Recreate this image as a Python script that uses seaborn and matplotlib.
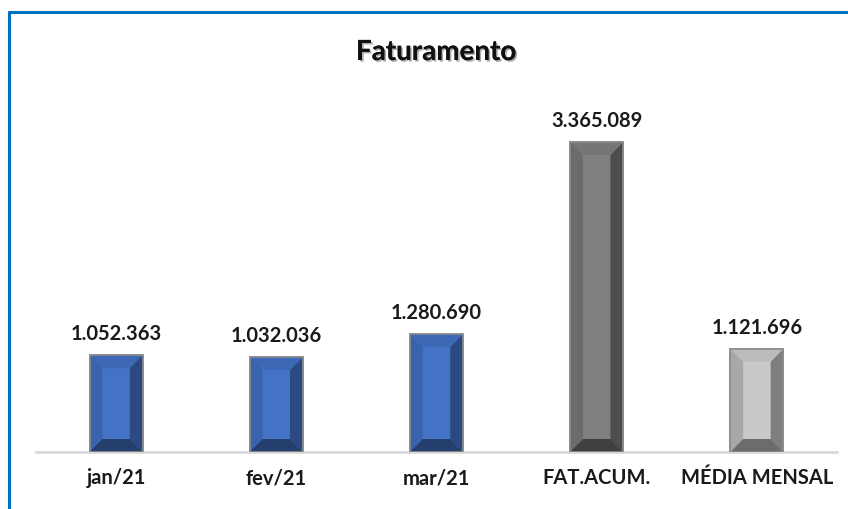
import matplotlib
matplotlib.use("Agg")
import pandas as pd
import seaborn as sns
import matplotlib.pyplot as plt
import matplotlib.patheffects as pe
from matplotlib.patches import Polygon
from matplotlib.lines import Line2D

# Data
categories = ["jan/21", "fev/21", "mar/21", "FAT.ACUM.", "MÉDIA MENSAL"]
values = [1052363, 1032036, 1280690, 3365089, 1121696]
labels = ["1.052.363", "1.032.036", "1.280.690", "3.365.089", "1.121.696"]

# face, left, top, right, bottom bevel colours per bar
face_colors = ["#4472C4", "#4472C4", "#4472C4", "#808080", "#C9C9C9"]
left_colors = ["#3A63AE", "#3A63AE", "#3A63AE", "#6B6B6B", "#A8A8A8"]
top_colors = ["#3D68B6", "#3D68B6", "#3D68B6", "#767676", "#BBBBBB"]
right_colors = ["#2B4A82", "#2B4A82", "#2B4A82", "#4D4D4D", "#7E7E7E"]
bottom_colors = ["#243F6E", "#243F6E", "#243F6E", "#404040", "#6C6C6C"]

df = pd.DataFrame({"cat": categories, "val": values})

sns.set_style("white")
plt.rcParams["font.family"] = ["Lato", "DejaVu Sans"]

fig = plt.figure(figsize=(8.48, 5.10), dpi=100)
ax = fig.add_axes([36 / 848, 57 / 510, 801 / 848, 368.5 / 510])

sns.barplot(x="cat", y="val", data=df, hue="cat", palette=face_colors, saturation=1,
            width=0.33, legend=False, ax=ax, edgecolor="#8C8C8C", linewidth=1.2)
ax.set_ylim(0, 4000000)
ax.set_xlim(-0.5, 4.5)

# bevel effect built from the bar patches
fig.canvas.draw()
ppy = (ax.get_ylim()[1] - ax.get_ylim()[0]) / ax.bbox.height
for i, p in enumerate(list(ax.patches)):
    x0, y0 = p.get_x(), p.get_y()
    w, h = p.get_width(), p.get_height()
    x1, y1 = x0 + w, y0 + h
    dx = w * 0.24
    dy = 13 * ppy
    polys = [
        ([(x0, y0), (x0 + dx, y0 + dy), (x0 + dx, y1 - dy), (x0, y1)], left_colors[i]),
        ([(x1, y0), (x1 - dx, y0 + dy), (x1 - dx, y1 - dy), (x1, y1)], right_colors[i]),
        ([(x0, y1), (x0 + dx, y1 - dy), (x1 - dx, y1 - dy), (x1, y1)], top_colors[i]),
        ([(x0, y0), (x0 + dx, y0 + dy), (x1 - dx, y0 + dy), (x1, y0)], bottom_colors[i]),
    ]
    for pts, c in polys:
        ax.add_patch(Polygon(pts, closed=True, facecolor=c, edgecolor="none", zorder=3))
    ax.add_patch(plt.Rectangle((x0, y0), w, h, fill=False, edgecolor="#8C8C8C",
                               linewidth=1.2, zorder=4))
    ax.text(x0 + w / 2, y1 + 12 * ppy, labels[i], ha="center", va="bottom",
            fontsize=14.5, fontweight="bold", color="#1A1A1A")

sns.despine(ax=ax, left=True)
ax.spines["bottom"].set_color("#D9D9D9")
ax.spines["bottom"].set_linewidth(2)
ax.set_yticks([])
ax.set_xlabel("")
ax.set_ylabel("")
ax.tick_params(axis="x", length=0, pad=11, labelsize=14.5)
for t in ax.get_xticklabels():
    t.set_fontweight("bold")
    t.set_color("#1A1A1A")

fig.text(436 / 848, 1 - 53 / 510, "Faturamento", ha="center", va="center",
         fontsize=20, fontweight="bold", color="#111111",
         path_effects=[pe.withSimplePatchShadow(offset=(1.2, -1.2), shadow_rgbFace="#777777", alpha=0.6),
                       pe.Normal()])

# blue frame of the chart area
fig.add_artist(Line2D([9 / 848, 9 / 848], [0, 1 - 12.5 / 510], transform=fig.transFigure,
                      color="#0070C0", linewidth=2.2))
fig.add_artist(Line2D([9 / 848, 1], [1 - 13 / 510, 1 - 13 / 510], transform=fig.transFigure,
                      color="#0070C0", linewidth=2.2))

fig.savefig("out.png", dpi=100)
